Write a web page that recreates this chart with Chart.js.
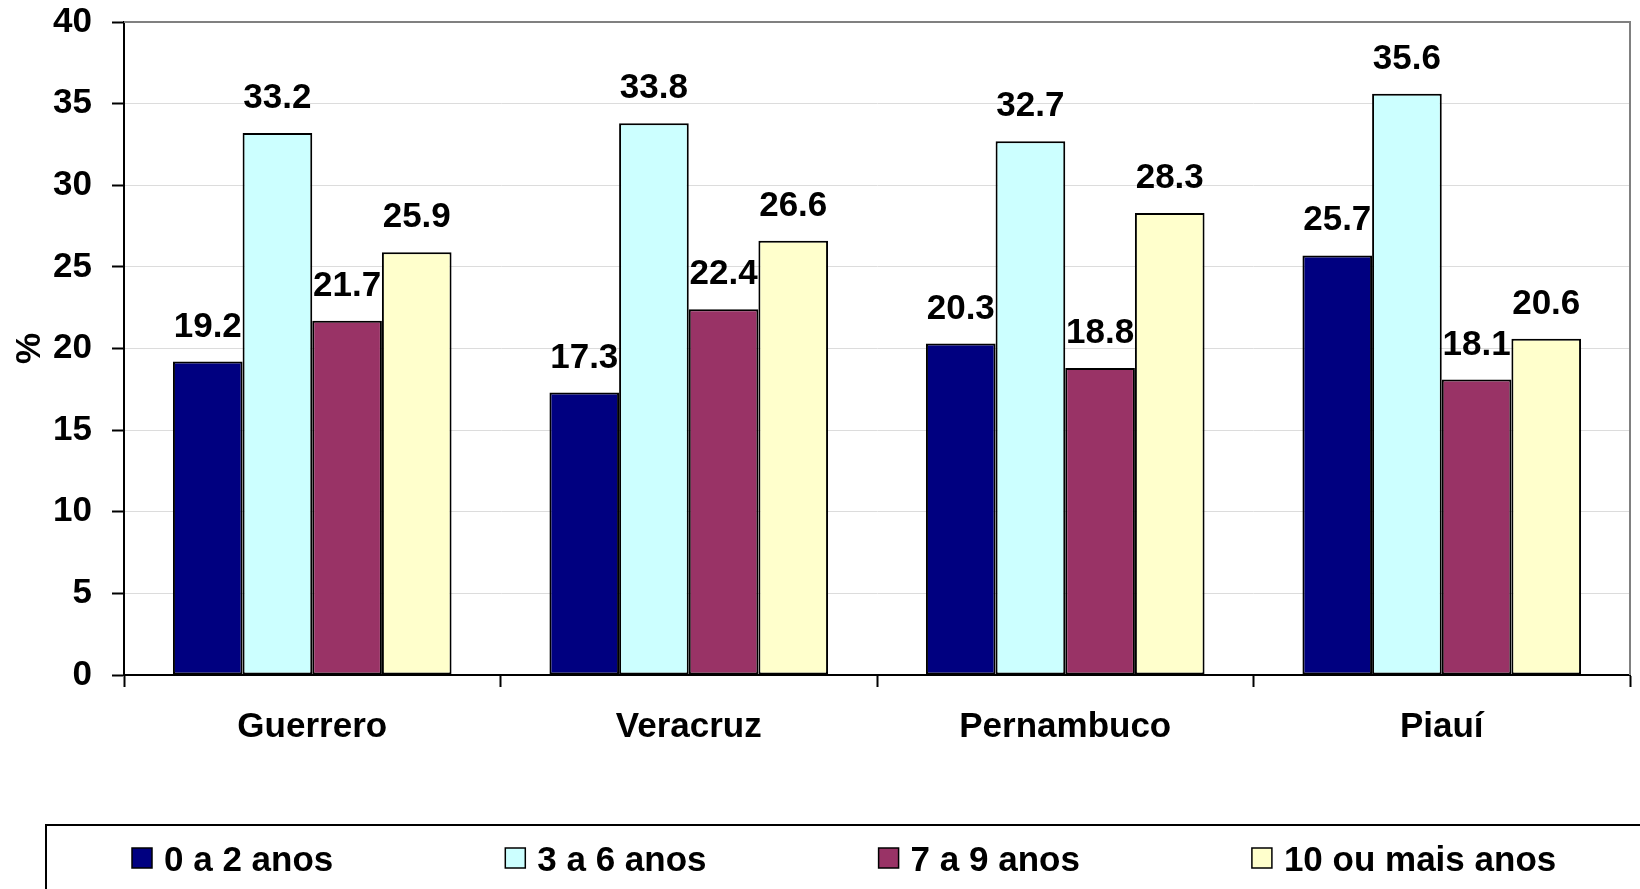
<!DOCTYPE html>
<html>
<head>
<meta charset="utf-8">
<script src="https://cdn.jsdelivr.net/npm/chart.js@4"></script>
<style>
  html, body { margin: 0; padding: 0; background: #fff; }
  #wrap { width: 1640px; height: 889px; position: relative; }
</style>
</head>
<body>
<div id="wrap"><canvas id="c" width="1640" height="889"></canvas></div>
<script>
const categories = ['Guerrero', 'Veracruz', 'Pernambuco', 'Piauí'];
const seriesNames = ['0 a 2 anos', '3 a 6 anos', '7 a 9 anos', '10 ou mais anos'];
const age0to2 = [19.2, 17.3, 20.3, 25.7];
const age3to6 = [33.2, 33.8, 32.7, 35.6];
const age7to9 = [21.7, 22.4, 18.8, 18.1];
const age10plus = [25.9, 26.6, 28.3, 20.6];
const yAxisTitle = '%';
const yMin = 0, yMax = 40, yStep = 5;

const colors = ['#000080', '#CCFFFF', '#993366', '#FFFFCC'];
const FONT = "'Liberation Sans', Arial, sans-serif";
const FS = 35;

const seriesValues = [age0to2, age3to6, age7to9, age10plus];

const datasets = seriesValues.map((vals, i) => ({
  label: seriesNames[i],
  data: vals,
  backgroundColor: colors[i],
  borderColor: '#000',
  borderWidth: 2,
  borderSkipped: false,
  categoryPercentage: 0.74,
  barPercentage: 1.0
}));

const framePlugin = {
  id: 'frame',
  beforeDatasetsDraw(chart) {
    const { ctx, chartArea: a } = chart;
    ctx.save();
    ctx.strokeStyle = '#808080';
    ctx.lineWidth = 2;
    ctx.beginPath();
    ctx.moveTo(a.left, a.top);
    ctx.lineTo(a.right, a.top);
    ctx.lineTo(a.right, a.bottom);
    ctx.stroke();
    ctx.restore();
  }
};

const labelPlugin = {
  id: 'valueLabels',
  afterDatasetsDraw(chart) {
    const { ctx } = chart;
    ctx.save();
    ctx.font = `bold ${FS}px ${FONT}`;
    ctx.fillStyle = '#000';
    ctx.textAlign = 'center';
    ctx.textBaseline = 'alphabetic';
    chart.data.datasets.forEach((ds, di) => {
      const meta = chart.getDatasetMeta(di);
      meta.data.forEach((el, i) => {
        ctx.fillText(ds.data[i].toFixed(1), el.x, el.y - 25);
      });
    });
    ctx.restore();
  }
};

const legendPlugin = {
  id: 'customLegend',
  afterDraw(chart) {
    const { ctx } = chart;
    ctx.save();
    ctx.strokeStyle = '#000';
    ctx.lineWidth = 2;
    ctx.strokeRect(46, 825, 1700, 200);
    ctx.font = `bold ${FS}px ${FONT}`;
    ctx.textBaseline = 'middle';
    ctx.textAlign = 'left';
    chart.data.datasets.forEach((ds, i) => {
      const x = 132 + i * 373.3;
      const y = 848;
      ctx.fillStyle = ds.backgroundColor;
      ctx.fillRect(x, y, 20, 20);
      ctx.strokeStyle = '#000';
      ctx.lineWidth = 1.5;
      ctx.strokeRect(x, y, 20, 20);
      ctx.fillStyle = '#000';
      ctx.fillText(ds.label, x + 32, y + 13);
    });
    ctx.restore();
  }
};

new Chart(document.getElementById('c'), {
  type: 'bar',
  data: { labels: categories, datasets },
  options: {
    responsive: false,
    animation: false,
    devicePixelRatio: 1,
    layout: { padding: { top: 22, right: 10, bottom: 0, left: 0 } },
    plugins: { legend: { display: false }, tooltip: { enabled: false } },
    scales: {
      x: {
        afterFit(scale) { scale.height = 214; },
        grid: {
          offset: true,
          drawOnChartArea: false,
          drawTicks: true,
          tickLength: 12,
          tickColor: '#000',
          tickWidth: 2
        },
        border: { display: true, color: '#000', width: 2 },
        ticks: {
          color: '#000',
          padding: 19,
          font: { family: FONT, size: FS, weight: 'bold' }
        }
      },
      y: {
        min: yMin,
        max: yMax,
        afterFit(scale) {
          scale.width = 124;
          scale.paddingTop = 0;
          scale.paddingBottom = 0;
        },
        grid: {
          color: '#dcdcdc',
          lineWidth: 1,
          drawTicks: true,
          tickLength: 12,
          tickColor: '#000',
          tickWidth: 2
        },
        border: { display: true, color: '#000', width: 2 },
        ticks: {
          stepSize: yStep,
          color: '#000',
          padding: 20,
          font: { family: FONT, size: FS, weight: 'bold' }
        },
        title: {
          display: true,
          text: yAxisTitle,
          color: '#000',
          padding: { top: 9, bottom: 4 },
          font: { family: FONT, size: FS, weight: 'bold' }
        }
      }
    }
  },
  plugins: [framePlugin, labelPlugin, legendPlugin]
});
</script>
</body>
</html>
